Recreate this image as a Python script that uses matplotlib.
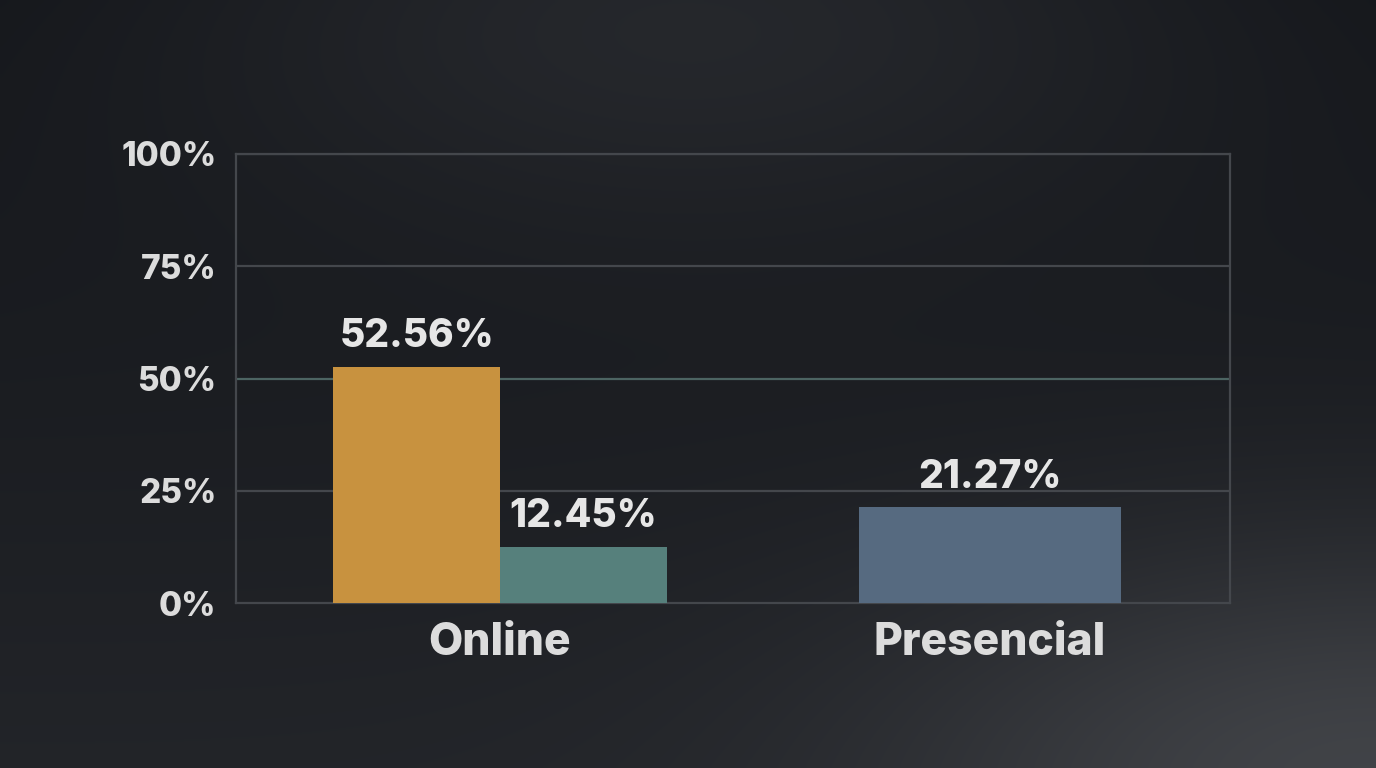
import numpy as np
import matplotlib
matplotlib.use("Agg")
import matplotlib.pyplot as plt

plt.rcParams['font.family'] = ['Inter', 'DejaVu Sans']

# data
groups = ['Online', 'Presencial']
bar_group = [0, 0, 1]          # which group each bar belongs to
bar_values = [52.56, 12.45, 21.27]
bar_colors = ['#c8923f', '#56807c', '#566a80']
y_ticks = [0, 25, 50, 75, 100]
y_tick_labels = ['0%', '25%', '50%', '75%', '100%']

fig = plt.figure(figsize=(13.76, 7.68), dpi=100)

# background gradient
bg = fig.add_axes([0, 0, 1, 1], zorder=0)
h, w = 192, 344
yy, xx = np.mgrid[0:1:h * 1j, 0:1:w * 1j]
v = (0.075
     + 0.07 * np.exp(-((xx - 0.5) / 0.4) ** 2 - (yy / 0.3) ** 2)
     + 0.06 * yy
     + 0.12 * np.exp(-((xx - 1.0) / 0.35) ** 2 - ((yy - 1.0) / 0.3) ** 2))
img = np.dstack([v, v + 0.008, v + 0.025]).clip(0, 1)
bg.imshow(img, aspect='auto', extent=[0, 1, 0, 1], interpolation='bilinear')
bg.set_axis_off()

ax = fig.add_axes([236 / 1376, 165 / 768, 994 / 1376, 449 / 768], zorder=1)
ax.set_facecolor('none')

# bar x positions: paired bars in Online, single wide bar in Presencial
pair_w = 0.34
single_w = 0.533
xs, ws = [], []
counts = [bar_group.count(g) for g in range(len(groups))]
seen = [0] * len(groups)
for g in bar_group:
    if counts[g] == 2:
        xs.append(g + (seen[g] - 0.5) * pair_w)
        ws.append(pair_w)
    else:
        xs.append(g)
        ws.append(single_w)
    seen[g] += 1

for y in y_ticks[1:]:
    col = '#4c6462' if y == 50 else '#44474c'
    ax.axhline(y, color=col, linewidth=1.6, zorder=1)

bars = ax.bar(xs, bar_values, width=ws, color=bar_colors, zorder=3,
              edgecolor='none')
for b, val in zip(bars, bar_values):
    ax.text(b.get_x() + b.get_width() / 2, val + 2.6, f'{val:.2f}%',
            ha='center', va='bottom', color='#e6e6e6', fontsize=28,
            fontweight=800, zorder=4)

ax.set_xlim(-0.539, 1.490)
ax.set_ylim(0, 100)
ax.set_yticks(y_ticks)
ax.set_yticklabels(y_tick_labels)
ax.set_xticks(range(len(groups)))
ax.set_xticklabels(groups)
ax.tick_params(axis='y', length=0, pad=14, labelsize=24, labelcolor='#dcdcdc')
ax.tick_params(axis='x', length=0, pad=14, labelsize=32, labelcolor='#dcdcdc')
for lab in ax.get_yticklabels() + ax.get_xticklabels():
    lab.set_fontweight(800)

for side in ['left', 'right', 'top', 'bottom']:
    ax.spines[side].set_color('#44474c')
    ax.spines[side].set_linewidth(1.6)

fig.savefig('out.png', dpi=100)
